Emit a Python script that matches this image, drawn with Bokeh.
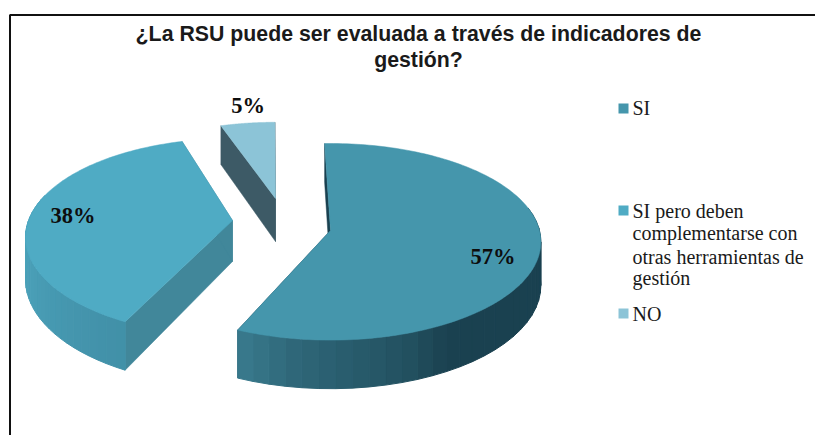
import numpy as np
from bokeh.plotting import figure
from bokeh.core.properties import value
from bokeh.embed import file_html
from bokeh.resources import INLINE

# --- data ---
categories = ["SI", "SI pero deben complementarse con otras herramientas de gestión", "NO"]
values = [57, 38, 5]
title_lines = ["¿La RSU puede ser evaluada a través de indicadores de", "gestión?"]
legend_lines = [["SI"], ["SI pero deben", "complementarse con", "otras herramientas de", "gestión"], ["NO"]]

# --- styling / layout (reference pixel space) ---
top_colors = ["#4596AC", "#4FABC4", "#8CC4D7"]
wall_colors = ["#1A4150", "#41879A", "#3D5A66"]
centers = [(330, 230), (232, 220), (275, 198)]
radii = [(209, 97), (204, 96), (194, 85)]
depths = [43, 41, 43]
turn = [-0.6, 2.5, 1.0]     # slight shear caused by the exploded perspective
persp = [0.115, 0.17, 0.115]
start_deg = -1.2

p = figure(width=815, height=435, x_range=(0, 815), y_range=(435, 0),
           toolbar_location=None, output_backend="svg", min_border=0,
           outline_line_color=None, background_fill_color="white")
p.axis.visible = False
p.grid.visible = False


def proj(i, t, down=0.0):
    cx, cy = centers[i]
    rx, ry = radii[i]
    X, Y = np.sin(t), np.cos(t)
    w = 1 + persp[i] * Y
    return cx + rx * X / w, cy - ry * Y / w + down * depths[i] / w


def apex(i, down=0.0):
    return centers[i][0], centers[i][1] + down * depths[i]


def hex2rgb(h):
    return np.array([int(h[j:j + 2], 16) for j in (1, 3, 5)], float)


def ramp(stops, d):
    ds = [s[0] for s in stops]
    rgb = np.array([hex2rgb(s[1]) for s in stops])
    c = [np.interp(d, ds, rgb[:, j]) for j in range(3)]
    return "#%02x%02x%02x" % tuple(int(round(v)) for v in c)


rim_stops = [
    [(60, "#1A4150"), (150, "#1A4150"), (160, "#22505F"), (188, "#2E6678"), (204, "#3A7C8F"), (210, "#3A7C8F")],
    [(200, "#3F8EA5"), (225, "#4596AE"), (250, "#4A9FB7"), (290, "#4AA3BB")],
    [(340, "#3D5A66"), (360, "#3D5A66")],
]

# slice angles from the values
edges = start_deg + np.concatenate([[0], np.cumsum(values)]) * 3.6
for i in [2, 1, 0]:
    a0, a1 = np.radians(edges[i] + turn[i]), np.radians(edges[i + 1] + turn[i])
    ts = np.linspace(a0, a1, 151)
    # radial walls
    for t in (a0, a1):
        xo, yo = proj(i, t)
        xb, yb = proj(i, t, 1)
        xa, ya = apex(i)
        xc, yc = apex(i, 1)
        p.patch([xa, xo, xb, xc], [ya, yo, yb, yc], fill_color=wall_colors[i], line_color=wall_colors[i], line_width=0.5)
    # rim strips
    strip = ts[::3]
    for a, b in zip(strip[:-1], strip[1:]):
        if np.cos((a + b) / 2) > 0.25:
            continue
        col = ramp(rim_stops[i], np.degrees((a + b) / 2))
        xa, ya = proj(i, a)
        xb, yb = proj(i, b)
        xc, yc = proj(i, b, 1)
        xd, yd = proj(i, a, 1)
        p.patch([xa, xb, xc, xd], [ya, yb, yc, yd], fill_color=col, line_color=col, line_width=1)
    # top face
    xs, ys = proj(i, ts)
    p.patch(np.r_[centers[i][0], xs], np.r_[centers[i][1], ys], fill_color=top_colors[i],
            line_color=top_colors[i], line_width=0.5)

# frame
p.line([816, 9.5, 9.5], [14.5, 14.5, 436], line_color="#111111", line_width=2)

# title
for s, y in zip(title_lines, [33, 59]):
    p.text([418], [y], text=[s], text_font=value("Liberation Sans"), text_font_style="bold",
           text_font_size="21.3px", text_align="center", text_baseline="alphabetic", text_color="#1a1a1a")

# data labels
label_pos = [(492.5, 256), (72.5, 215), (247.5, 105)]
for v, (x, y) in zip(values, label_pos):
    p.text([x], [y], text=[f"{v}%"], text_font=value("Liberation Serif"), text_font_style="bold",
           text_font_size="22.5px", text_align="center", text_baseline="alphabetic", text_color="#0d0d0d")

# legend
swatch_y = [108, 210, 313]
line_y = [[107], [210, 232, 256, 277], [313]]
for i, lines in enumerate(legend_lines):
    p.rect([623], [swatch_y[i]], width=10, height=10, fill_color=top_colors[i], line_color=None)
    for s, y in zip(lines, line_y[i]):
        p.text([632], [y], text=[s], text_font=value("Liberation Serif"), text_font_size="20px",
               text_align="left", text_baseline="alphabetic", text_color="#1a1a1a")

open("out.html", "w").write(file_html(p, INLINE))
